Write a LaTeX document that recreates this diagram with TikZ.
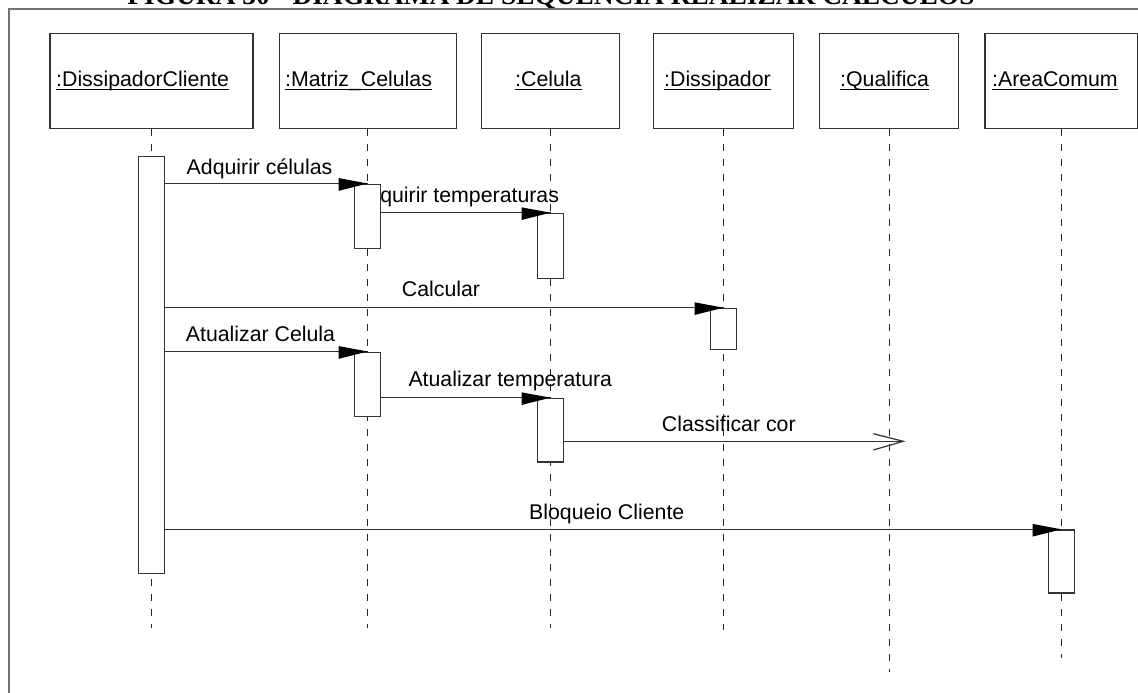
\documentclass[tikz,border=0pt]{standalone}
\usepackage{fontspec}
\setmainfont{Liberation Sans}
\newfontfamily\titlefont{Liberation Serif}
\begin{document}
\begin{tikzpicture}[x=1pt,y=-1pt,
  objbox/.style={draw=black!80,line width=1.3pt,minimum width=#1,minimum height=95pt,anchor=north,inner sep=0pt},
  objname/.style={anchor=base west,inner sep=0pt,font=\fontsize{21.3}{25}\selectfont},
  lifeline/.style={draw=black!85,line width=1.1pt,dash pattern=on 7pt off 8pt},
  act/.style={draw=black!80,fill=white,line width=1.2pt,minimum width=26pt,anchor=north,inner sep=0pt},
  msglabel/.style={anchor=base west,inner sep=0pt,font=\fontsize{21.3}{25}\selectfont},
  msg/.style={draw=black!80,line width=1.2pt},
  frameline/.style={draw=black!55,line width=1.6pt}
]
\useasboundingbox (0,0) rectangle (1138,693);

% title (runs past the top edge) and outer frame
\node[anchor=base,inner sep=0pt,font=\titlefont\bfseries\fontsize{27.4}{30}\selectfont] (title) at (551,5)
  {FIGURA 30 - DIAGRAMA DE SEQUÊNCIA REALIZAR CÁLCULOS};
\draw[frameline] (9,710) -- (9,9) -- (1150,9);

% object boxes
\node[objbox=203pt] (oDC) at (151.5,33) {};
\node[objbox=177pt] (oM)  at (367.7,33) {};
\node[objbox=138pt] (oC)  at (550.5,33) {};
\node[objbox=140pt] (oD)  at (723.5,33) {};
\node[objbox=139pt] (oQ)  at (889.3,33) {};
\node[objbox=153pt] (oA)  at (1061.5,33) {};

% object names, underlined
\foreach \n/\x/\t in {DC/56/{:DissipadorCliente}, M/285/{:Matriz\_Celulas}, C/515/{:Celula},
                      D/664/{:Dissipador}, Q/840/{:Qualifica}, A/992/{:AreaComum}}{
  \node[objname] (t\n) at (\x,86.7) {\t};
  \draw[line width=1.4pt] ([yshift=-2.6pt]t\n.base west) -- ([yshift=-2.6pt]t\n.base east);
}

% lifeline ends
\coordinate (eDC) at (151.5,628);
\coordinate (eM)  at (367.7,628);
\coordinate (eC)  at (550.5,628);
\coordinate (eD)  at (723.5,630);
\coordinate (eQ)  at (889.3,672);
\coordinate (eA)  at (1061.5,658);

\foreach \n in {DC,M,C,D,Q,A}
  \draw[lifeline] (o\n.south) -- (e\n);

% message labels (drawn before activations, which cover part of one)
\node[msglabel] (l1) at (186.5,174)   {Adquirir células};
\node[msglabel] (l2) at (354,202.7)   {Adquirir temperaturas};
\node[msglabel] (l3) at (401.7,296)   {Calcular};
\node[msglabel] (l4) at (185.7,341.7) {Atualizar Celula};
\node[msglabel] (l5) at (408.3,386.7) {Atualizar temperatura};
\node[msglabel] (l6) at (661.7,431.7) {Classificar cor};
\node[msglabel] (l7) at (529,519)     {Bloqueio Cliente};

% activation bars
\node[act,minimum height=417pt]  (aDC) at (151.3,156) {};
\node[act,minimum height=64.2pt] (aM1) at (367.7,183.5) {};
\node[act,minimum height=65pt]   (aC1) at (550.5,212.7) {};
\node[act,minimum height=41.3pt] (aD)  at (723.5,307.7) {};
\node[act,minimum height=64.2pt] (aM2) at (367.7,351.5) {};
\node[act,minimum height=63.6pt] (aC2) at (550.5,397.7) {};
\node[act,minimum height=63pt]   (aA)  at (1061.5,529.3) {};

% synchronous messages with filled heads
\foreach \s/\t in {aDC/aM1, aM1/aC1, aDC/aD, aDC/aM2, aM2/aC2, aDC/aA}{
  \draw[msg] (\s.east |- \t.north) -- (\t.north);
  \fill[black] (\t.north) -- ++(-29,-5.4) -- ++(0,12.7) -- cycle;
}

% asynchronous message with open head
\coordinate (qEnd) at (903.3,441.3);
\draw[msg] (aC2.east |- qEnd) -- (qEnd);
\draw[msg] (873.3,433.7) -- (qEnd) -- (873.3,450);
\end{tikzpicture}
\end{document}
